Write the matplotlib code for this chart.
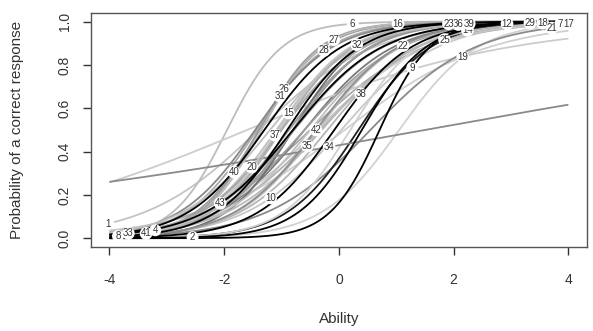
import numpy as np
import matplotlib
matplotlib.use("Agg")
import matplotlib.pyplot as plt

plt.rcParams["font.family"] = ["Liberation Sans", "DejaVu Sans"]

# item parameters (discrimination a, difficulty b)
items = [1, 2, 3, 4, 5, 6, 7, 8, 9, 10, 11, 12, 13, 14, 15, 16, 17, 18, 19, 20, 21,
         22, 23, 24, 25, 26, 27, 28, 29, 30, 31, 32, 33, 34, 35, 36, 37, 38, 39, 40,
         41, 42, 43]
disc = [1.00, 1.80, 0.80, 1.40, 1.50, 2.10, 1.10, 1.50, 2.30, 1.20, 1.00, 1.30, 0.44,
        1.30, 1.50, 1.90, 1.05, 1.20, 1.47, 1.40, 1.10, 1.40, 1.70, 1.60, 1.60, 1.80,
        1.90, 1.60, 1.30, 1.70, 1.50, 1.60, 1.30, 0.19, 1.20, 1.40, 1.60, 1.50, 1.50,
        1.30, 1.60, 1.40, 1.30]
diff = [-1.40, 0.40, 0.10, -0.87, -1.30, -1.95, -0.33, -0.79, 0.71, 0.04, -0.50,
        -0.60, -1.60, -0.20, -1.09, -1.39, -0.38, -0.60, 1.05, -1.01, 0.55, -0.37,
        -0.80, -0.90, 0.34, -1.39, -1.35, -1.43, -0.50, 0.20, -1.46, -1.02, -0.78,
        1.50, -0.30, -1.00, -1.06, -0.08, -0.80, -1.20, -1.00, -0.40, -0.80]
# x position of each item's label on its curve (None = no label)
label_x = [-4.02, -2.55, None, -3.20, None, 0.24, 3.86, -3.85, 1.28, -1.19, None,
           2.93, None, 2.24, -0.88, 1.03, 4.00, 3.55, 2.16, -1.52, 3.71, 1.12, 1.91,
           None, 1.84, -0.95, -0.09, -0.26, 3.33, None, -1.03, 0.31, -3.67, -0.17,
           -0.55, 2.08, -1.12, 0.38, 2.27, -1.83, -3.36, -0.40, -2.07]
# labels that sit underneath their neighbours in the reference
hidden_below = [14, 36, 26]
colors = ["#c4c4c4", "#000000", "#d0d0d0", "#9a9a9a", "#000000", "#bdbdbd",
          "#b0b0b0", "#8c8c8c", "#000000", "#c8c8c8", "#a8a8a8", "#7a7a7a",
          "#cccccc", "#b5b5b5", "#c0c0c0", "#a0a0a0", "#c6c6c6", "#9e9e9e",
          "#d2d2d2", "#a5a5a5", "#8a8a8a", "#bdbdbd", "#6e6e6e", "#000000",
          "#202020", "#9a9a9a", "#b8b8b8", "#aaaaaa", "#c0c0c0", "#d0d0d0",
          "#888888", "#bbbbbb", "#999999", "#8a8a8a", "#b8b8b8", "#aaaaaa",
          "#c4c4c4", "#000000", "#a0a0a0", "#c0c0c0", "#b0b0b0", "#8e8e8e",
          "#000000"]

theta = np.linspace(-4, 4, 400)

def icc(t, a, b):
    return 1.0 / (1.0 + np.exp(-a * (t - b)))

fig = plt.figure(figsize=(5.93, 3.31), dpi=100)
ax = fig.add_axes([0.1535, 0.254, 0.836, 0.707])

order = sorted(range(len(items)), key=lambda i: colors[i] == "#000000")
for i in order:
    ax.plot(theta, icc(theta, disc[i], diff[i]), color=colors[i], lw=1.3,
            solid_capstyle="butt", zorder=2 + (colors[i] == "#000000"))

for i, it in enumerate(items):
    lx = label_x[i]
    if lx is None:
        continue
    ly = icc(lx, disc[i], diff[i])
    z = 4.5 if it in hidden_below else 5
    ax.text(lx, ly, str(it), fontsize=7, color="#333333", ha="center",
            va="center", zorder=z,
            bbox=dict(boxstyle="circle,pad=0.1", fc="white", ec="none"))

ax.set_xlim(-4.32, 4.32)
ax.set_ylim(-0.04, 1.04)
ax.set_xticks([-4, -2, 0, 2, 4])
ax.set_xticklabels(["-4", "-2", "0", "2", "4"])
ax.set_yticks([0, 0.2, 0.4, 0.6, 0.8, 1.0])
ax.set_yticklabels(["0.0", "0.2", "0.4", "0.6", "0.8", "1.0"], rotation=90,
                   va="center")
for s in ax.spines.values():
    s.set_color("#555555")
    s.set_linewidth(1.0)
ax.tick_params(axis="both", direction="out", length=6, width=1.0,
               color="#333333", labelcolor="#333333", labelsize=10)
ax.tick_params(axis="x", pad=13)
ax.tick_params(axis="y", pad=8)
ax.set_xlabel("Ability", fontsize=11, color="#333333", labelpad=18)
ax.set_ylabel("Probability of a correct response", fontsize=11,
              color="#333333", labelpad=24)

fig.savefig("out.png", dpi=100)
